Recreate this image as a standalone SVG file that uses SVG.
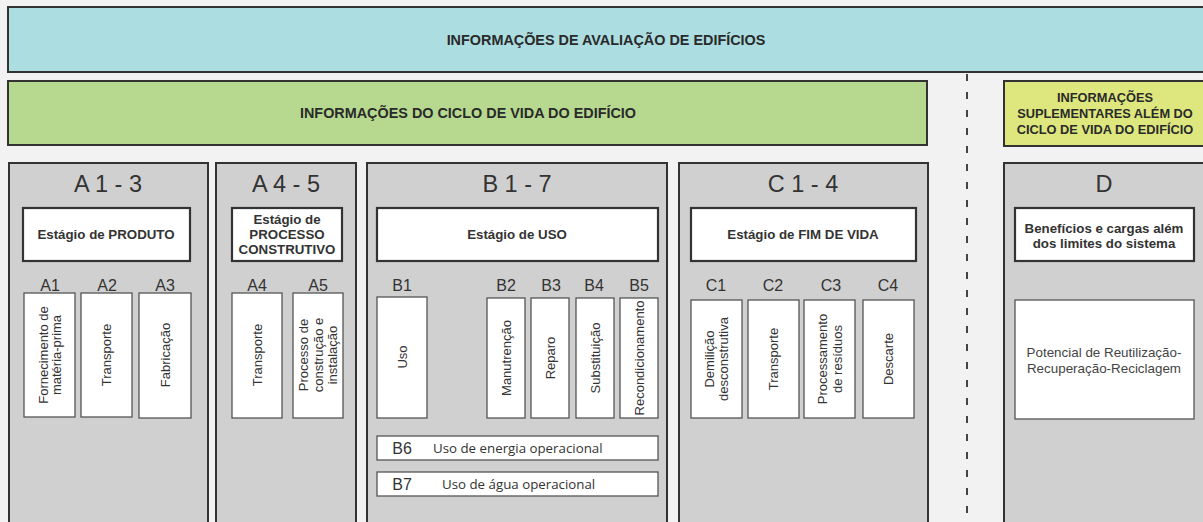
<svg xmlns="http://www.w3.org/2000/svg" width="1203" height="522" viewBox="0 0 1203 522">
<style>
text{font-family:"Liberation Sans",Arial,sans-serif;fill:#333}
.banner{stroke:#333;stroke-width:2}
.ban{font-size:14.4px;font-weight:bold;text-anchor:middle;fill:#2a2a2a}
.ban2{font-size:12.8px;font-weight:bold;text-anchor:middle;fill:#2a2a2a}
.col{fill:#d0d0d0;stroke:#333;stroke-width:2}
.ttl{font-size:23.5px;text-anchor:middle}
.hdr{fill:#fff;stroke:#333;stroke-width:2.2}
.hdt{font-size:13.3px;font-weight:bold;text-anchor:middle}
.lbl{font-size:16px;text-anchor:middle}
.sub{fill:#fff;stroke:#555;stroke-width:1.3}
.vt{font-size:13px;text-anchor:middle}
.pt{font-size:13.4px;text-anchor:middle;fill:#444}
.os{font-family:"Open Sans","Noto Sans",sans-serif;font-size:13.3px}
</style>
<rect width="1203" height="522" fill="#f2f2f2"/>

<g id="avaliacao">
<rect class="banner" x="8" y="7" width="1200" height="65" fill="#abdde1"/>
<text class="ban" x="606" y="45">INFORMAÇÕES DE AVALIAÇÃO DE EDIFÍCIOS</text>
</g>
<g id="ciclo">
<rect class="banner" x="8" y="81" width="919" height="64" fill="#b7d98f"/>
<text class="ban" x="468" y="118">INFORMAÇÕES DO CICLO DE VIDA DO EDIFÍCIO</text>
</g>
<g id="suplementares">
<rect class="banner" x="1004" y="81" width="204" height="65" fill="#dde77e"/>
<text class="ban2" x="1105" y="102">INFORMAÇÕES</text>
<text class="ban2" x="1105" y="118">SUPLEMENTARES ALÉM DO</text>
<text class="ban2" x="1105" y="134">CICLO DE VIDA DO EDIFÍCIO</text>
</g>

<g id="connectors">
<line x1="967" y1="74" x2="967" y2="522" stroke="#444" stroke-width="2" stroke-dasharray="7 11"/>
</g>

<g id="colA13">
<rect class="col" x="9" y="163" width="199" height="362"/>
<text class="ttl" x="108" y="192">A 1 - 3</text>
<rect class="hdr" x="23" y="208" width="167" height="53"/>
<text class="hdt" x="106" y="239">Estágio de PRODUTO</text>
<text class="lbl" x="50" y="291">A1</text>
<text class="lbl" x="107" y="291">A2</text>
<text class="lbl" x="165" y="291">A3</text>
<rect class="sub" x="24" y="293" width="51" height="124"/>
<rect class="sub" x="81" y="293" width="51" height="124"/>
<rect class="sub" x="139" y="293" width="52" height="125"/>
<text class="vt" transform="translate(49.5 355) rotate(-90)"><tspan x="0" y="-2">Fornecimento de</tspan><tspan x="0" y="11">matéria-prima</tspan></text>
<text class="vt" transform="translate(106.5 355) rotate(-90)"><tspan x="0" y="4.5">Transporte</tspan></text>
<text class="vt" transform="translate(165 355) rotate(-90)"><tspan x="0" y="4.5">Fabricação</tspan></text>
</g>

<g id="colA45">
<rect class="col" x="216" y="163" width="140" height="362"/>
<text class="ttl" x="286" y="192">A 4 - 5</text>
<rect class="hdr" x="232" y="208" width="110" height="53"/>
<text class="hdt" x="287" y="224">Estágio de</text>
<text class="hdt" x="287" y="239">PROCESSO</text>
<text class="hdt" x="287" y="254">CONSTRUTIVO</text>
<text class="lbl" x="257" y="291">A4</text>
<text class="lbl" x="318" y="291">A5</text>
<rect class="sub" x="232" y="293" width="50" height="125"/>
<rect class="sub" x="293" y="293" width="50" height="125"/>
<text class="vt" transform="translate(257 355) rotate(-90)"><tspan x="0" y="4.5">Transporte</tspan></text>
<text class="vt" transform="translate(318 355) rotate(-90)"><tspan x="0" y="-10">Processo de</tspan><tspan x="0" y="4.5">construção e</tspan><tspan x="0" y="19">instalação</tspan></text>
</g>

<g id="colB17">
<rect class="col" x="367" y="163" width="300" height="362"/>
<text class="ttl" x="517" y="192">B 1 - 7</text>
<rect class="hdr" x="377" y="208" width="281" height="53"/>
<text class="hdt" x="517" y="239">Estágio de USO</text>
<text class="lbl" x="402" y="291">B1</text>
<text class="lbl" x="506" y="291">B2</text>
<text class="lbl" x="551" y="291">B3</text>
<text class="lbl" x="594" y="291">B4</text>
<text class="lbl" x="639" y="291">B5</text>
<rect class="sub" x="377" y="297" width="50" height="121"/>
<rect class="sub" x="487" y="298" width="38" height="120"/>
<rect class="sub" x="531" y="298" width="38" height="120"/>
<rect class="sub" x="576" y="298" width="38" height="120"/>
<rect class="sub" x="620" y="298" width="38" height="120"/>
<text class="vt" transform="translate(402 357) rotate(-90)"><tspan x="0" y="4.5">Uso</tspan></text>
<text class="vt" transform="translate(506 358) rotate(-90)"><tspan x="0" y="4.5">Manutrenção</tspan></text>
<text class="vt" transform="translate(550 358) rotate(-90)"><tspan x="0" y="4.5">Reparo</tspan></text>
<text class="vt" transform="translate(595 358) rotate(-90)"><tspan x="0" y="4.5">Substituição</tspan></text>
<text class="vt" transform="translate(639 358) rotate(-90)"><tspan x="0" y="4.5">Recondicionamento</tspan></text>
<rect class="sub" x="377" y="436" width="281" height="24"/>
<text class="lbl" x="402" y="454">B6</text>
<text class="os" x="433" y="453">Uso de energia operacional</text>
<rect class="sub" x="377" y="472" width="281" height="24"/>
<text class="lbl" x="402" y="490">B7</text>
<text class="os" x="442" y="489">Uso de água operacional</text>
</g>

<g id="colC14">
<rect class="col" x="679" y="163" width="249" height="362"/>
<text class="ttl" x="803" y="192">C 1 - 4</text>
<rect class="hdr" x="691" y="208" width="225" height="53"/>
<text class="hdt" x="803" y="239">Estágio de FIM DE VIDA</text>
<text class="lbl" x="716" y="291">C1</text>
<text class="lbl" x="773" y="291">C2</text>
<text class="lbl" x="831" y="291">C3</text>
<text class="lbl" x="888" y="291">C4</text>
<rect class="sub" x="691" y="300" width="51" height="118"/>
<rect class="sub" x="748" y="300" width="51" height="118"/>
<rect class="sub" x="804" y="300" width="51" height="118"/>
<rect class="sub" x="863" y="300" width="51" height="118"/>
<text class="vt" transform="translate(716.5 359) rotate(-90)"><tspan x="0" y="-3">Demilição</tspan><tspan x="0" y="11">desconstrutiva</tspan></text>
<text class="vt" transform="translate(773.5 359) rotate(-90)"><tspan x="0" y="4.5">Transporte</tspan></text>
<text class="vt" transform="translate(829.5 359) rotate(-90)"><tspan x="0" y="-3">Processamento</tspan><tspan x="0" y="12">de resíduos</tspan></text>
<text class="vt" transform="translate(888.5 359) rotate(-90)"><tspan x="0" y="4.5">Descarte</tspan></text>
</g>

<g id="colD">
<rect class="col" x="1004" y="163" width="204" height="362"/>
<text class="ttl" x="1104" y="192">D</text>
<rect class="hdr" x="1015" y="208" width="179" height="53"/>
<text class="hdt" x="1104" y="233">Benefícios e cargas além</text>
<text class="hdt" x="1104" y="248">dos limites do sistema</text>
<rect class="sub" x="1015" y="300" width="179" height="119"/>
<text class="pt" x="1104" y="357">Potencial de Reutilização-</text>
<text class="pt" x="1104" y="373">Recuperação-Reciclagem</text>
</g>
</svg>
